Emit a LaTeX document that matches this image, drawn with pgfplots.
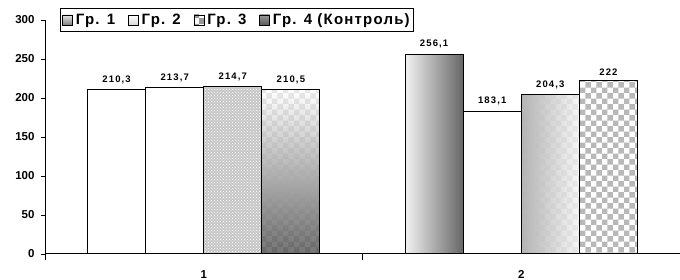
\documentclass[border=0pt]{standalone}
\usepackage{pgfplots}
\pgfplotsset{compat=1.18}
\usepackage{fontspec}
\setmainfont{Liberation Sans}
\newfontfamily\spacedfont[LetterSpace=8]{Liberation Sans}
\newfontfamily\labelfont[LetterSpace=12]{Liberation Sans}
\usetikzlibrary{patterns}
\begin{document}
\begin{tikzpicture}
\useasboundingbox (-45pt,-26pt) rectangle (635pt,254pt);
\begin{axis}[
  at={(0pt,0pt)}, anchor=south west,
  scale only axis, width=635pt, height=234pt,
  xmin=-0.5, xmax=1.5, ymin=0, ymax=300,
  ytick={0,50,...,300},
  xtick={0,1}, xticklabels={1,2},
  minor xtick={-0.5,0.5,1.5},
  axis x line*=bottom, axis y line*=left,
  axis line style={-, line width=1pt},
  tick align=outside,
  major x tick style={draw=none},
  minor tick length=6pt,
  major tick length=4pt,
  tick style={black, line width=0.8pt},
  /pgf/number format/assume math mode=true,
  /pgf/number format/use comma, /pgf/number format/fixed, /pgf/number format/precision=1,
  /pgf/number format/1000 sep={},
  ticklabel style={font=\bfseries\fontsize{11.5}{13}\selectfont},
  yticklabel style={xshift=-3pt},
  xticklabel style={yshift=-9pt},
  nodes near coords,
  every node near coord/.append style={font=\labelfont\bfseries\fontsize{9.5}{10}\selectfont, yshift=2pt},
  legend style={at={(axis description cs:0.0236,1.05)}, anchor=north west,
    draw=black, line width=1pt, font=\spacedfont\bfseries\fontsize{15}{17}\selectfont,
    inner xsep=2pt, inner ysep=3pt},
  legend columns=4,
  legend image code/.code={\draw[#1, draw=black, line width=0.5pt] (0pt,-5pt) rectangle (10pt,5pt);},
  /tikz/every odd column/.append style={column sep=1pt},
  /tikz/every even column/.append style={column sep=11pt},
]
% group 1
\addplot[ybar, bar width=0.183, bar shift=-0.2745, draw=black, line width=1pt, fill=white, forget plot,
  every node near coord/.append style={xshift=-87.15pt}] coordinates {(0,210.3)};
\addplot[ybar, bar width=0.183, bar shift=-0.0915, draw=black, line width=1pt, fill=white, forget plot,
  every node near coord/.append style={xshift=-29.05pt}] coordinates {(0,213.7)};
\addplot[ybar, bar width=0.183, bar shift=0.0915, draw=black, line width=1pt, fill=black!22,
  postaction={pattern=crosshatch dots, pattern color=white}, forget plot,
  every node near coord/.append style={xshift=29.05pt}] coordinates {(0,214.7)};
\addplot[ybar, bar width=0.183, bar shift=0.2745, draw=black, line width=1pt, top color=white, bottom color=black!60,
  postaction={pattern=checkerboard, pattern color=black!35, fill opacity=0.5}, forget plot,
  every node near coord/.append style={xshift=87.15pt}] coordinates {(0,210.5)};
% group 2
\addplot[ybar, bar width=0.183, bar shift=-0.2745, draw=black, line width=1pt, left color=black!5, right color=black!60, forget plot,
  every node near coord/.append style={xshift=-87.15pt}] coordinates {(1,256.1)};
\addplot[ybar, bar width=0.183, bar shift=-0.0915, draw=black, line width=1pt, fill=white, forget plot,
  every node near coord/.append style={xshift=-29.05pt}] coordinates {(1,183.1)};
\addplot[ybar, bar width=0.183, bar shift=0.0915, draw=black, line width=1pt, left color=black!30, right color=black!3,
  postaction={pattern=checkerboard, pattern color=black!25, fill opacity=0.6}, forget plot,
  every node near coord/.append style={xshift=29.05pt}] coordinates {(1,204.3)};
\addplot[ybar, bar width=0.183, bar shift=0.2745, draw=black, line width=1pt, fill=white,
  postaction={pattern=checkerboard, pattern color=black!28}, forget plot,
  every node near coord/.append style={xshift=87.15pt}] coordinates {(1,222)};
\addlegendimage{top color=black!10, bottom color=black!50}
\addlegendentry{Гр. 1}
\addlegendimage{top color=white, bottom color=black!15}
\addlegendentry{Гр. 2}
\addlegendimage{fill=white, postaction={pattern=checkerboard, pattern color=black!40}}
\addlegendentry{Гр. 3}
\addlegendimage{top color=black!40, bottom color=black!65}
\addlegendentry{Гр. 4 (Контроль)}
\end{axis}
\end{tikzpicture}
\end{document}
